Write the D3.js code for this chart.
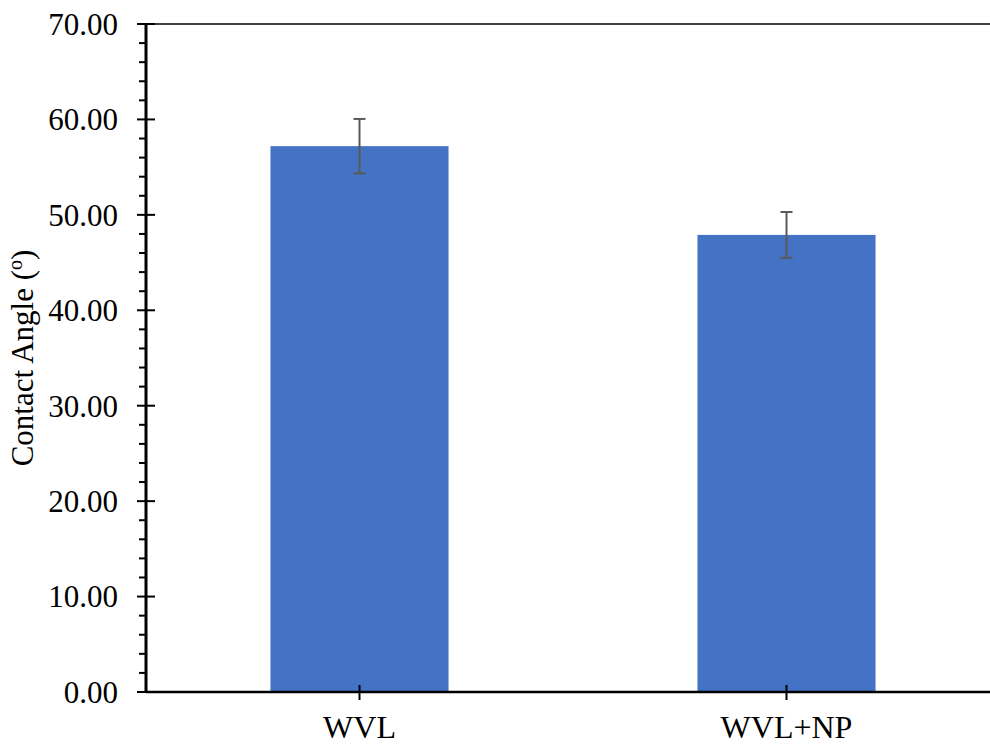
<!DOCTYPE html>
<html>
<head>
<meta charset="utf-8">
<script src="https://cdn.jsdelivr.net/npm/d3@7"></script>
<style>
  body { margin: 0; background: #fff; }
  svg { display: block; }
  text { font-family: "Liberation Serif", "Times New Roman", serif; fill: #000; }
</style>
</head>
<body>
<div id="chart"></div>
<script>
const categories = ['WVL', 'WVL+NP'];
const contactAngle = [57.2, 47.9];
const errorValues = [2.85, 2.4];
const yTicks = [0, 10, 20, 30, 40, 50, 60, 70];

const width = 990;
const height = 746;
const margin = {top: 24, left: 146, bottom: 54};
const plotRight = 1000; // plot area runs past the right edge of the picture

const svg = d3.select('#chart').append('svg')
    .attr('width', width).attr('height', height);

const x = d3.scaleBand()
    .domain(categories)
    .range([margin.left, plotRight])
    .paddingInner(0.583)
    .paddingOuter(0.2915);

const y = d3.scaleLinear()
    .domain([0, 70])
    .range([height - margin.bottom, margin.top]);

// top border
svg.append('line')
    .attr('x1', margin.left).attr('x2', plotRight)
    .attr('y1', y(70)).attr('y2', y(70))
    .attr('stroke', '#404040').attr('stroke-width', 2);

// bars
svg.append('g')
    .selectAll('rect')
    .data(categories)
    .enter()
    .append('rect')
    .attr('x', d => x(d))
    .attr('y', (d, i) => y(contactAngle[i]))
    .attr('width', x.bandwidth())
    .attr('height', (d, i) => y(0) - y(contactAngle[i]))
    .attr('fill', '#4472c4');

// error bars
const err = svg.append('g')
    .attr('stroke', '#595959')
    .attr('stroke-width', 2);
categories.forEach((c, i) => {
    const cx = x(c) + x.bandwidth() / 2;
    const hi = y(contactAngle[i] + errorValues[i]);
    const lo = y(contactAngle[i] - errorValues[i]);
    err.append('line').attr('x1', cx).attr('x2', cx).attr('y1', hi).attr('y2', lo);
    err.append('line').attr('x1', cx - 6).attr('x2', cx + 6).attr('y1', hi).attr('y2', hi);
    err.append('line').attr('x1', cx - 6).attr('x2', cx + 6).attr('y1', lo).attr('y2', lo);
});

// y axis: minor ticks
const minor = d3.range(0, 70.001, 2).filter(v => v % 10 !== 0);
svg.append('g')
    .selectAll('line')
    .data(minor)
    .enter()
    .append('line')
    .attr('x1', margin.left - 7).attr('x2', margin.left)
    .attr('y1', d => y(d)).attr('y2', d => y(d))
    .attr('stroke', '#000').attr('stroke-width', 2);

// y axis: major ticks cross the line
svg.append('g')
    .selectAll('line')
    .data(yTicks)
    .enter()
    .append('line')
    .attr('x1', margin.left - 9).attr('x2', margin.left + 9)
    .attr('y1', d => y(d)).attr('y2', d => y(d))
    .attr('stroke', '#000').attr('stroke-width', 2);

svg.append('line')
    .attr('x1', margin.left).attr('x2', margin.left)
    .attr('y1', y(70) - 1).attr('y2', y(0) + 1)
    .attr('stroke', '#000').attr('stroke-width', 3);

svg.append('g')
    .selectAll('text')
    .data(yTicks)
    .enter()
    .append('text')
    .attr('x', 118)
    .attr('y', d => y(d))
    .attr('dy', '0.35em')
    .attr('text-anchor', 'end')
    .style('font-size', '31px')
    .text(d => d.toFixed(2));

// x axis
svg.append('line')
    .attr('x1', margin.left).attr('x2', plotRight)
    .attr('y1', y(0)).attr('y2', y(0))
    .attr('stroke', '#000').attr('stroke-width', 2.5);

svg.append('g')
    .selectAll('line')
    .data(categories)
    .enter()
    .append('line')
    .attr('x1', d => x(d) + x.bandwidth() / 2)
    .attr('x2', d => x(d) + x.bandwidth() / 2)
    .attr('y1', y(0) - 7).attr('y2', y(0) + 8)
    .attr('stroke', '#000').attr('stroke-width', 2);

svg.append('g')
    .selectAll('text')
    .data(categories)
    .enter()
    .append('text')
    .attr('x', d => x(d) + x.bandwidth() / 2)
    .attr('y', 738)
    .attr('text-anchor', 'middle')
    .style('font-size', '32px')
    .text(d => d);

// y label
const yl = svg.append('text')
    .attr('transform', 'translate(33,358) rotate(-90)')
    .attr('text-anchor', 'middle')
    .style('font-size', '31px');
yl.append('tspan').text('Contact Angle (');
yl.append('tspan').attr('baseline-shift', 'super').style('font-size', '20px').text('o');
yl.append('tspan').text(')');
</script>
</body>
</html>
